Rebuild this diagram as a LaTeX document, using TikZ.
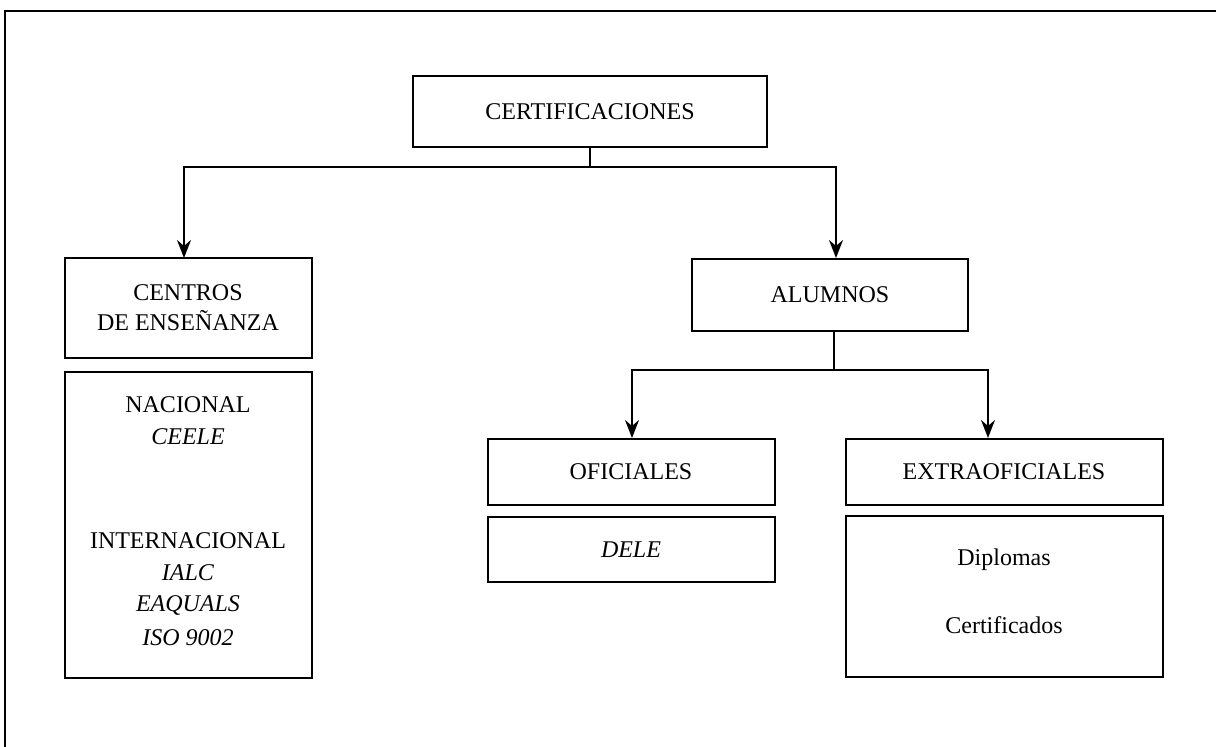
\documentclass[tikz,border=0pt]{standalone}
\usepackage{fontspec}
\setmainfont{Liberation Serif}
\usetikzlibrary{arrows.meta}

\tikzset{
    caja/.style={draw, line width=1pt, inner sep=0pt, minimum width=#1},
    arr/.style={line width=0.8pt, -{Stealth[length=9pt, width=7pt, inset=3pt]}},
    linea/.style={line width=0.8pt},
}

\begin{document}
\begin{tikzpicture}[x=0.5pt, y=-0.5pt, font=\fontsize{12}{14}\selectfont]
            \useasboundingbox (0,0) rectangle (1216,747);
            % marco
            \draw[line width=1pt] (5,747) -- (5,11) -- (1216,11);
            % cajas
            \node[caja=177pt, minimum height=35.5pt] (cert) at (590,112) {CERTIFICACIONES};
            \node[caja=123.5pt, minimum height=50pt, align=center] (centros) at (188,308) {CENTROS\\[1pt]DE ENSEÑANZA};
            \node[caja=123.5pt, minimum height=153pt] (lista) at (188,525) {};
            \node[caja=138pt, minimum height=36pt] (alumnos) at (830,295) {ALUMNOS};
            \node[caja=143.5pt, minimum height=33pt] (oficiales) at (631,472) {OFICIALES};
            \node[caja=143.5pt, minimum height=32.5pt] (dele) at (631,550) {\itshape DELE};
            \node[caja=158.5pt, minimum height=33pt] (extra) at (1004,472) {EXTRAOFICIALES};
            \node[caja=158.5pt, minimum height=80.5pt] (diplomas) at (1004,597) {};
            % textos de las listas
            \node (nac) at (188,405) {NACIONAL};
            \node (ceele) at (188,437) {\itshape CEELE};
            \node (inter) at (188,541) {INTERNACIONAL};
            \node (ialc) at (188,573) {\itshape IALC};
            \node (eaq) at (188,606) {\itshape EAQUALS};
            \node (iso) at (188,638) {\itshape ISO 9002};
            \node (dipl) at (1004,560) {Diplomas};
            \node (certif) at (1004,625) {Certificados};
            % conectores
            \coordinate (nudo1) at (590,167);
            \coordinate (nudo2) at (834,370);
            \draw[linea] (cert.south) -- (nudo1);
            \draw[arr] (nudo1) -| (184,258);
            \draw[arr] (nudo1) -| (836,258);
            \draw[linea] (alumnos.south -| nudo2) -- (nudo2);
            \draw[arr] (nudo2) -| (632,438);
            \draw[arr] (nudo2) -| (988,438);
\end{tikzpicture}
\end{document}
